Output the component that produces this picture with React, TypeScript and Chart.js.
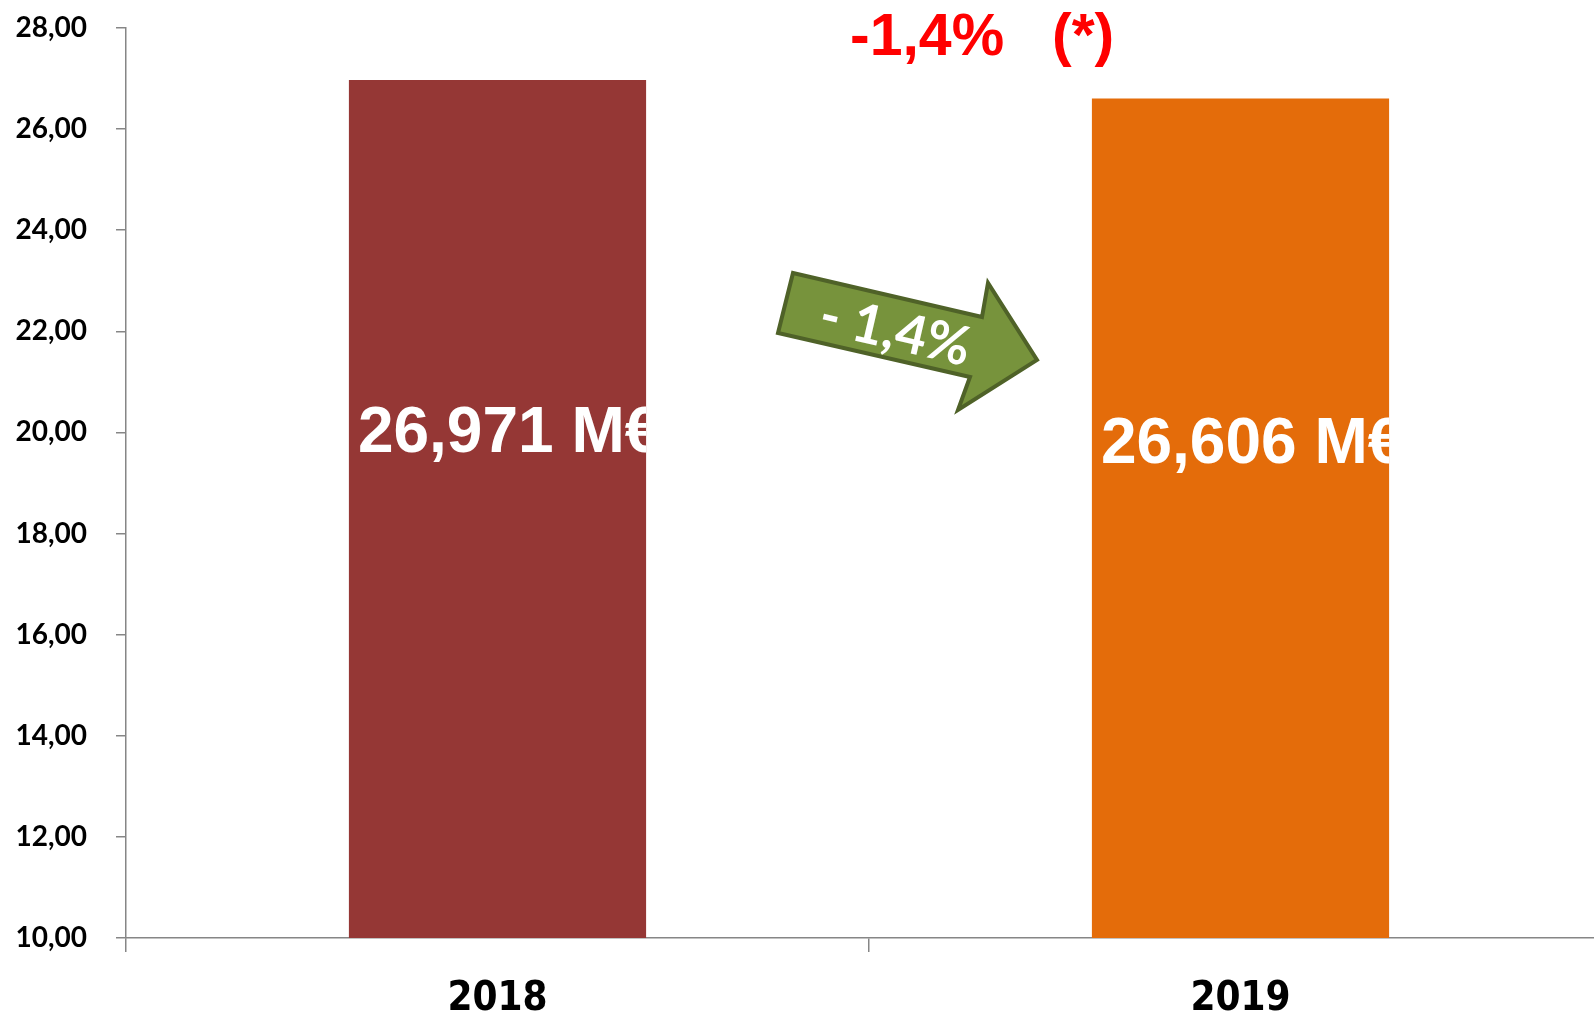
import React, { useEffect, useRef } from "react";
import { Chart, registerables } from "chart.js";

Chart.register(...registerables);

const categories = ["2018", "2019"];
const values = [26.971, 26.606];
const valueLabels = ["26,971 M€", "26,606 M€"];
const barColors = ["#953735", "#E46C0A"];
const yMin = 10;
const yMax = 28;
const yStep = 2;
const changeText = "-1,4%";
const noteText = "(*)";
const arrowText = "- 1,4%";

const W = 1612;
const H = 1018;
const AXIS_COLOR = "#868686";

const barLabelPlugin = {
  id: "barLabels",
  afterDatasetsDraw(chart: any) {
    const ctx = chart.ctx;
    const meta = chart.getDatasetMeta(0);
    meta.data.forEach((bar: any, i: number) => {
      const left = bar.x - bar.width / 2;
      const right = bar.x + bar.width / 2;
      const top = bar.y;
      const bottom = chart.chartArea.bottom;
      ctx.save();
      ctx.beginPath();
      ctx.rect(left, top, right - left, bottom - top);
      ctx.clip();
      ctx.fillStyle = "#FFFFFF";
      ctx.font = "bold 64px 'Liberation Sans', Arial, sans-serif";
      ctx.textAlign = "left";
      ctx.textBaseline = "alphabetic";
      ctx.fillText(valueLabels[i], left + 9, top + (bottom - top) * 0.434);
      ctx.restore();
    });
  },
};

const annotationPlugin = {
  id: "annotations",
  afterDraw(chart: any) {
    const ctx = chart.ctx;
    ctx.save();
    // red title
    ctx.fillStyle = "#FF0000";
    ctx.font = "bold 59px 'Liberation Sans', Arial, sans-serif";
    ctx.textAlign = "left";
    ctx.textBaseline = "alphabetic";
    ctx.fillText(changeText, 850, 55);
    ctx.fillText(noteText, 1052, 55);

    // green arrow
    const pts = [
      [793, 273],
      [982, 317],
      [988, 283],
      [1037, 360],
      [958, 410],
      [970, 377],
      [778, 333],
    ];
    ctx.beginPath();
    pts.forEach((p, i) => (i === 0 ? ctx.moveTo(p[0], p[1]) : ctx.lineTo(p[0], p[1])));
    ctx.closePath();
    ctx.fillStyle = "#77933C";
    ctx.fill();
    ctx.lineWidth = 4;
    ctx.lineJoin = "miter";
    ctx.strokeStyle = "#4F6228";
    ctx.stroke();

    ctx.translate(895, 332);
    ctx.rotate((13 * Math.PI) / 180);
    ctx.fillStyle = "#FFFFFF";
    ctx.font = "bold 54px Lato, 'Open Sans', sans-serif";
    ctx.textAlign = "center";
    ctx.textBaseline = "middle";
    ctx.fillText(arrowText, 0, 0);
    ctx.restore();
  },
};

export default function App() {
  const ref = useRef<HTMLCanvasElement | null>(null);

  useEffect(() => {
    document.documentElement.style.overflow = "hidden";
    document.body.style.overflow = "hidden";
    document.body.style.margin = "0";
    const canvas = ref.current;
    if (!canvas) return;
    const chart = new Chart(canvas, {
      type: "bar",
      data: {
        labels: categories,
        datasets: [
          {
            data: values,
            backgroundColor: barColors,
            borderWidth: 0,
            barPercentage: 0.4,
            categoryPercentage: 1,
          },
        ],
      },
      options: {
        responsive: false,
        animation: false,
        devicePixelRatio: 1,
        layout: { padding: { top: 28, left: 0, right: 0, bottom: 0 } },
        plugins: {
          legend: { display: false },
          tooltip: { enabled: false },
          title: { display: false },
        },
        scales: {
          x: {
            grid: {
              offset: true,
              drawOnChartArea: false,
              drawTicks: true,
              tickLength: 14,
              color: AXIS_COLOR,
              lineWidth: 1.5,
            },
            border: { display: true, color: AXIS_COLOR, width: 1.5 },
            ticks: {
              color: "#000000",
              padding: 24,
              font: {
                family: "'Liberation Sans Narrow', 'DejaVu Sans Condensed', 'Liberation Sans', sans-serif",
                size: 40,
                weight: "bold",
              },
            },
            afterFit: (s: any) => {
              s.height = 80;
              s.paddingLeft = 0;
              s.paddingRight = 0;
            },
          },
          y: {
            min: yMin,
            max: yMax,
            grid: {
              drawOnChartArea: false,
              drawTicks: true,
              tickLength: 10,
              color: AXIS_COLOR,
              lineWidth: 1.5,
            },
            border: { display: true, color: AXIS_COLOR, width: 1.5 },
            ticks: {
              stepSize: yStep,
              color: "#000000",
              padding: 29,
              font: { family: "Lato, 'Open Sans', sans-serif", size: 28, weight: "bold" },
              callback: (v: any) => Number(v).toFixed(2).replace(".", ","),
            },
            afterFit: (s: any) => {
              s.width = 126;
              s.paddingTop = 0;
              s.paddingBottom = 0;
            },
          },
        },
      },
      plugins: [barLabelPlugin, annotationPlugin],
    } as any);
    return () => chart.destroy();
  }, []);

  return (
    <div style={{ position: "fixed", left: 0, top: 0, width: W, height: H, background: "#FFFFFF" }}>
      <canvas ref={ref} width={W} height={H} style={{ width: W, height: H, display: "block" }} />
    </div>
  );
}
